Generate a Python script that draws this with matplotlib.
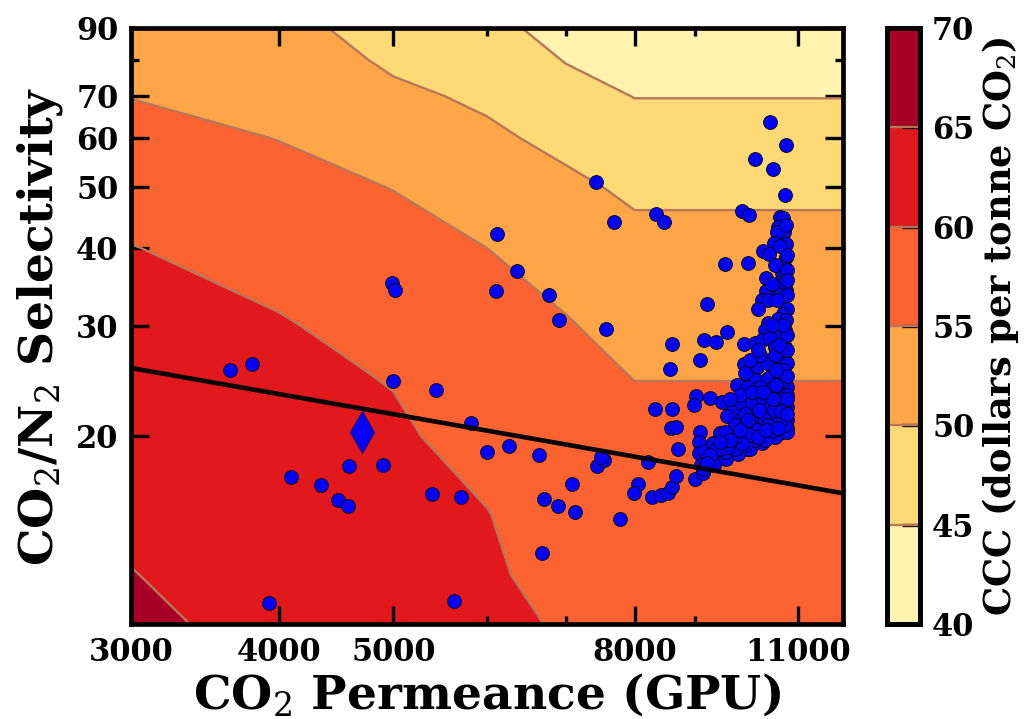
import numpy as np
import matplotlib
matplotlib.use("Agg")
import matplotlib.pyplot as plt
import matplotlib.ticker as ticker

plt.rcParams.update({
    "font.family": "DejaVu Serif",
    "font.weight": "bold",
    "axes.labelweight": "bold",
    "mathtext.fontset": "custom",
    "mathtext.rm": "DejaVu Serif:weight=normal",
    "mathtext.it": "DejaVu Serif:style=italic:weight=normal",
    "mathtext.bf": "DejaVu Serif:weight=bold",
    "mathtext.default": "rm",
})

# ---------------- data ----------------
# cost grid (CCC, $/t CO2)
perm_grid = [3000, 4000, 5000, 6000, 7000, 8000, 12000]
sel_grid = [10, 12, 15, 20, 25, 30, 40, 50, 60, 70, 80, 90]
# one list per permeance column, bottom (sel=10) to top (sel=90)
ccc_p3000 = [65.8, 65.1, 64.2, 63.0, 62.1, 61.3, 60.1, 58.2, 56.4, 54.9, 53.7, 52.5]
ccc_p4000 = [63.6, 63.0, 62.3, 61.4, 60.8, 60.3, 58.4, 56.4, 54.9, 53.6, 52.6, 51.5]
ccc_p5000 = [62.0, 61.6, 61.1, 60.5, 59.8, 58.6, 56.5, 54.9, 52.7, 50.9, 49.2, 47.8]
ccc_p6000 = [60.7, 60.4, 60.1, 58.7, 57.5, 56.5, 55.0, 52.7, 50.8, 49.2, 47.8, 46.4]
ccc_p7000 = [59.7, 59.0, 58.1, 56.9, 56.0, 55.3, 53.0, 50.9, 48.8, 46.6, 44.8, 43.1]
ccc_p8000 = [58.8, 58.0, 57.1, 55.9, 54.9, 53.5, 51.2, 49.2, 46.8, 44.9, 43.2, 41.7]
ccc_p12000 = [58.8, 58.0, 57.1, 55.9, 54.9, 53.5, 51.2, 49.2, 46.8, 44.9, 43.2, 41.7]
ccc_levels = [40, 45, 50, 55, 60, 65, 70]

# membranes (CO2 permeance in GPU, CO2/N2 selectivity)
perm_pts = [
    3640, 3800, 4100, 4345, 4490, 4580, 4585, 4900, 3925, 4985, 5015, 5000,
    5430, 5815, 6000, 6265, 5390, 5705, 5630, 6120, 6105, 6360, 6770, 6905,
    6640, 6705, 6890, 7080, 7125, 6680, 7420, 7685, 7570, 7435, 7540, 7490,
    7780, 8055, 7990, 8275, 8425, 8540, 8605, 8675, 8215, 8340, 8475, 8605,
    8575, 8325, 8605, 8590, 8675, 8710, 9215, 9160, 9375, 9580, 9090, 9865,
    10000, 9545, 9980, 10415, 10750, 10115, 10480, 10725, 9020, 8980, 9270, 9485,
    9090, 9070, 9070, 9160, 9105, 9000, 9145, 9905, 9905,
    # dense group near 10-11k GPU
    10620, 10685, 10580, 10705, 10560, 10500, 10745, 10620, 10275, 10395, 10745, 10620,
    10725, 10665, 10335, 10705, 10600, 10745, 10335, 10665, 10255, 10375, 10175, 10770,
    10685, 10580, 10745, 10375, 10315, 10725, 10645, 10115, 10255, 10415, 10520, 10725,
    10155, 10355, 10620, 10770, 9980, 10135, 10375, 10620, 9770, 9960, 10215, 10480,
    10770, 9675, 9865, 10060, 10275, 10560, 10770, 9580, 9825, 10060, 10275, 10560,
    10770, 9450, 9695, 9960, 10215, 10480, 10770, 9320, 9580, 9825, 10080, 10355,
    10620, 9395, 9695, 9960, 10770, 10520, 10255, 10020, 9790, 9560, 9340, 9140,
    10725, 10725, 10725, 10725, 10620, 10520, 10415, 10315, 10115, 9920, 9730, 9545,
    10685, 10685, 10580, 10415, 10415, 10315, 10155, 10020, 9865, 9730, 9600, 9450,
    10520, 10215, 10020, 9825, 9635, 9920, 9730, 9545, 9355, 10725, 10770, 10620,
    10745, 10770, 10770, 10645, 10500, 10645, 10375, 10770, 10770, 10770, 10770, 10770,
    10770, 10770, 10685, 10600, 10540, 10480, 10195, 9980, 10175, 10335, 10580, 9825,
    9635, 9450, 9268, 9215, 10060, 10275, 10540, 9920, 10175, 10460, 10560, 10520,
    10460,
]
sel_pts = [
    25.5, 26.1, 17.2, 16.7, 15.8, 15.45, 17.9, 17.95, 10.8, 35.1, 34.3, 24.5,
    23.7, 21.0, 18.85, 19.3, 16.15, 16.0, 10.9, 42.1, 34.2, 36.7, 33.7, 30.7,
    18.65, 15.85, 15.45, 16.75, 15.1, 13.0, 51.0, 44.1, 29.7, 17.9, 18.3, 18.5,
    14.75, 16.75, 16.2, 16.0, 16.1, 16.2, 16.6, 17.25, 18.2, 45.4, 44.1, 28.1,
    25.6, 22.1, 22.1, 20.6, 20.7, 19.1, 32.5, 28.5, 28.3, 29.3, 26.5, 45.9,
    45.2, 37.7, 37.9, 63.6, 58.4, 55.5, 53.6, 48.6, 23.2, 22.4, 23.0, 22.7,
    20.3, 19.6, 18.8, 18.9, 18.0, 17.1, 17.45, 28.1, 26.1,
    # dense group near 10-11k GPU
    44.9, 44.6, 43.3, 42.5, 42.4, 40.7, 40.6, 40.3, 39.5, 39.2, 38.75, 37.6,
    37.2, 36.5, 35.85, 36.0, 35.2, 34.3, 34.2, 32.8, 33.0, 33.0, 32.0, 32.0,
    31.4, 30.8, 30.7, 30.3, 29.6, 29.6, 29.05, 28.2, 28.5, 28.75, 27.8, 27.8,
    25.8, 26.2, 26.5, 26.2, 25.0, 24.6, 24.8, 24.8, 24.1, 24.0, 24.0, 24.0,
    24.0, 21.9, 22.5, 22.6, 22.7, 22.5, 22.3, 21.5, 21.2, 21.5, 21.7, 21.7,
    21.2, 20.2, 20.45, 20.6, 20.7, 20.85, 20.6, 19.5, 19.55, 19.8, 19.9, 20.1,
    20.2, 18.65, 18.85, 19.1, 20.3, 19.9, 19.5, 19.05, 18.7, 18.35, 18.0, 17.7,
    23.3, 22.9, 21.9, 20.85, 21.2, 20.45, 20.3, 19.7, 19.7, 19.35, 19.1, 18.85,
    24.6, 25.5, 23.3, 23.3, 22.25, 21.2, 20.45, 20.1, 19.5, 19.9, 19.2, 19.1,
    27.0, 27.0, 26.5, 23.3, 22.9, 21.7, 20.85, 20.3, 19.0, 35.2, 36.9, 33.6,
    43.6, 39.0, 23.3, 22.9, 22.0, 21.9, 20.85, 21.7, 22.9, 25.0, 27.5, 29.05,
    35.6, 33.6, 30.1, 28.0, 25.5, 22.9, 22.0, 21.2, 19.9, 20.45, 20.6, 20.45,
    19.7, 19.55, 18.65, 18.1, 23.5, 23.5, 24.1, 25.2, 27.5, 30.1, 33.0, 37.6,
    35.0,
]

# reference membrane (diamond) and the trade-off line
ref_perm = [4700]
ref_sel = [20.3]
line_perm = [3000, 12000]
line_sel = [25.7, 16.2]

x_major = [3000, 4000, 5000, 8000, 11000]
x_minor = [6000, 7000, 9000]
y_major = [20, 30, 40, 50, 60, 70, 90]
y_minor = [80]

# ---------------- plot ----------------
fig = plt.figure(figsize=(10.24, 7.19), dpi=100)
ax = fig.add_axes([0.128, 0.132, 0.695, 0.829])
cax = fig.add_axes([0.866, 0.132, 0.032, 0.829])

Z = np.array([ccc_p3000, ccc_p4000, ccc_p5000, ccc_p6000,
              ccc_p7000, ccc_p8000, ccc_p12000]).T
cf = ax.contourf(perm_grid, sel_grid, Z, levels=ccc_levels, cmap="YlOrRd")
cl = ax.contour(perm_grid, sel_grid, Z, levels=ccc_levels,
                colors="#b8765a", linewidths=1.7)

ax.scatter(perm_pts, sel_pts, s=100, c="#0000ff", edgecolors="black",
           linewidths=0.6, zorder=3)
ax.plot(line_perm, line_sel, "k-", lw=3.3, zorder=4)
ax.plot(ref_perm, ref_sel, "d", color="#0000ff", mec="#000060", mew=0.6,
        ms=21, zorder=5)

ax.set_xscale("log")
ax.set_yscale("log")
ax.set_xlim(3000, 12000)
ax.set_ylim(10, 90)

ax.xaxis.set_major_locator(ticker.FixedLocator(x_major))
ax.xaxis.set_minor_locator(ticker.FixedLocator(x_minor))
ax.yaxis.set_major_locator(ticker.FixedLocator(y_major))
ax.yaxis.set_minor_locator(ticker.FixedLocator(y_minor))
ax.xaxis.set_major_formatter(ticker.FixedFormatter([str(v) for v in x_major]))
ax.yaxis.set_major_formatter(ticker.FixedFormatter([str(v) for v in y_major]))
ax.xaxis.set_minor_formatter(ticker.NullFormatter())
ax.yaxis.set_minor_formatter(ticker.NullFormatter())

ax.tick_params(which="both", direction="in", top=True, right=True,
               width=2.4, labelsize=22, pad=9)
ax.tick_params(which="major", length=13)
ax.tick_params(which="minor", length=6)
for sp in ax.spines.values():
    sp.set_linewidth(3.4)

ax.set_xlabel("CO$_2$ Permeance (GPU)", fontsize=34, labelpad=3)
ax.set_ylabel("CO$_2$/N$_2$ Selectivity", fontsize=34, labelpad=8)

cbar = fig.colorbar(cf, cax=cax, ticks=ccc_levels)
cbar.add_lines(cl)
cbar.outline.set_linewidth(3.6)
cax.tick_params(direction="in", length=13, width=2.4, labelsize=22, pad=9)
cbar.set_label("CCC (dollars per tonne CO$_2$)", fontsize=26.5, labelpad=4)

fig.savefig("out.png", dpi=100)
